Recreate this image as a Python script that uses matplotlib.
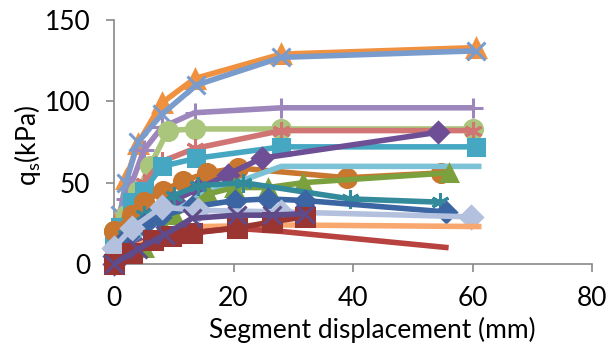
import matplotlib.pyplot as plt

plt.rcParams['font.family'] = ['Lato', 'DejaVu Sans']

# series data (segment displacement mm, q_s kPa)
s1_x = [0, 1, 2, 4, 8, 13.5, 28, 60.5]
s1_y = [15, 30, 52, 74, 99, 114, 129, 133]
s2_x = [0, 1, 2, 4, 8, 13.8, 28, 60.5]
s2_y = [13, 30, 50, 75, 92, 110, 127, 131]
s3_x = [0, 2, 5, 8, 13.5, 28, 60]
s3_y = [10, 40, 70, 84, 93, 96, 96]
s4_x = [0, 2, 4, 6, 9, 13.5, 28, 60]
s4_y = [20, 30, 45, 60, 82, 83, 83, 83]
s5_x = [0, 1, 3, 5, 8, 13.5, 28, 60]
s5_y = [5, 15, 35, 50, 63, 71, 82, 82]
s6_x = [0, 1, 3, 5, 8, 13.8, 28, 60.5]
s6_y = [15, 23, 38, 45, 60, 65, 72, 72]
s7_x = [0, 3, 5, 8.2, 11.6, 15.5, 20.8, 39, 54.8]
s7_y = [20, 30, 38, 45, 51, 56, 59, 53, 56]
s8_x = [0, 3, 6, 10, 14, 19, 24.7, 54.3]
s8_y = [0, 15, 28, 39, 46, 55, 65, 81]
s9_x = [0, 5, 10, 14.4, 28, 61.5]
s9_y = [5, 20, 32, 42, 60, 60]
s10_x = [0, 5, 10, 15.8, 20, 25.8, 31.7, 56]
s10_y = [0, 10, 30, 43, 47, 47, 50, 56]
s11_x = [0, 2, 5, 10, 14, 21.6, 39.5, 54.5]
s11_y = [5, 18, 30, 42, 48, 50, 40, 38]
s12_x = [0, 2.4, 5, 7.7, 13, 20.2, 25.8, 32, 55.6]
s12_y = [5, 17, 24, 29, 35, 39, 40, 39, 32]
s13_x = [0, 3, 8, 14, 28, 59.7]
s13_y = [10, 22, 35, 33, 32, 29]
s14_x = [0, 3, 8, 15, 28, 61.5]
s14_y = [0, 10, 18, 23, 24, 23]
s15_x = [0, 5, 10, 20, 28, 56]
s15_y = [0, 12, 18, 22, 20, 10]
s16_x = [0, 3, 6.5, 9.5, 13, 20.5, 26.5, 32]
s16_y = [0, 7, 15, 17, 19, 22, 26, 29]
s17_x = [0, 4, 8.5, 13, 20.5, 26.5, 32]
s17_y = [0, 9, 18, 28, 30, 30, 31]

series = [
    (s1_x, s1_y, '#F0913F', '^', 13),
    (s2_x, s2_y, '#7A9CCD', 'x', 13),
    (s3_x, s3_y, '#9C86BC', '+', 15),
    (s4_x, s4_y, '#AAC67C', 'o', 13),
    (s5_x, s5_y, '#D07573', (6, 2, 0), 13),
    (s6_x, s6_y, '#45A7C2', 's', 12),
    (s7_x, s7_y, '#C9762E', 'o', 13),
    (s8_x, s8_y, '#6E4F96', 'D', 10),
    (s9_x, s9_y, '#7CC2D6', None, 0),
    (s10_x, s10_y, '#7BA13E', '^', 12),
    (s11_x, s11_y, '#338A9B', (6, 2, 0), 13),
    (s12_x, s12_y, '#3B66A3', 'D', 10),
    (s13_x, s13_y, '#B3C1DE', 'D', 11),
    (s14_x, s14_y, '#F8A76E', None, 0),
    (s15_x, s15_y, '#B8423F', None, 0),
    (s16_x, s16_y, '#9B3532', 's', 13),
    (s17_x, s17_y, '#5F4A8A', 'x', 13),
]

fig = plt.figure(figsize=(6.14, 3.44), dpi=100)
ax = fig.add_axes([0.1857, 0.2326, 0.7785, 0.7094])

for i, (xs, ys, c, m, ms) in enumerate(series):
    ax.plot(xs, ys, color=c, lw=4, marker=m, ms=ms, mew=2.2, zorder=2 + i,
            solid_capstyle='butt', clip_on=False)

ax.set_xlim(0, 80)
ax.set_ylim(0, 150)
ax.set_xticks([0, 20, 40, 60, 80])
ax.set_yticks([0, 50, 100, 150])
for s in ['top', 'right']:
    ax.spines[s].set_visible(False)
for s in ['left', 'bottom']:
    ax.spines[s].set_color('#898989')
    ax.spines[s].set_linewidth(1.2)
ax.tick_params(colors='#898989', labelcolor='black', labelsize=19, length=6, width=1.2)
ax.tick_params(axis='y', pad=11)
ax.tick_params(axis='x', pad=10)

# axis titles placed where the reference has them
fig.text(0.044, 0.578, 'q$_\\mathregular{s}$(kPa)', fontsize=19, rotation=90,
         ha='center', va='center')
fig.text(0.606, 0.004, 'Segment displacement (mm)', fontsize=19,
         ha='center', va='bottom')

fig.savefig('out.png', dpi=100)
